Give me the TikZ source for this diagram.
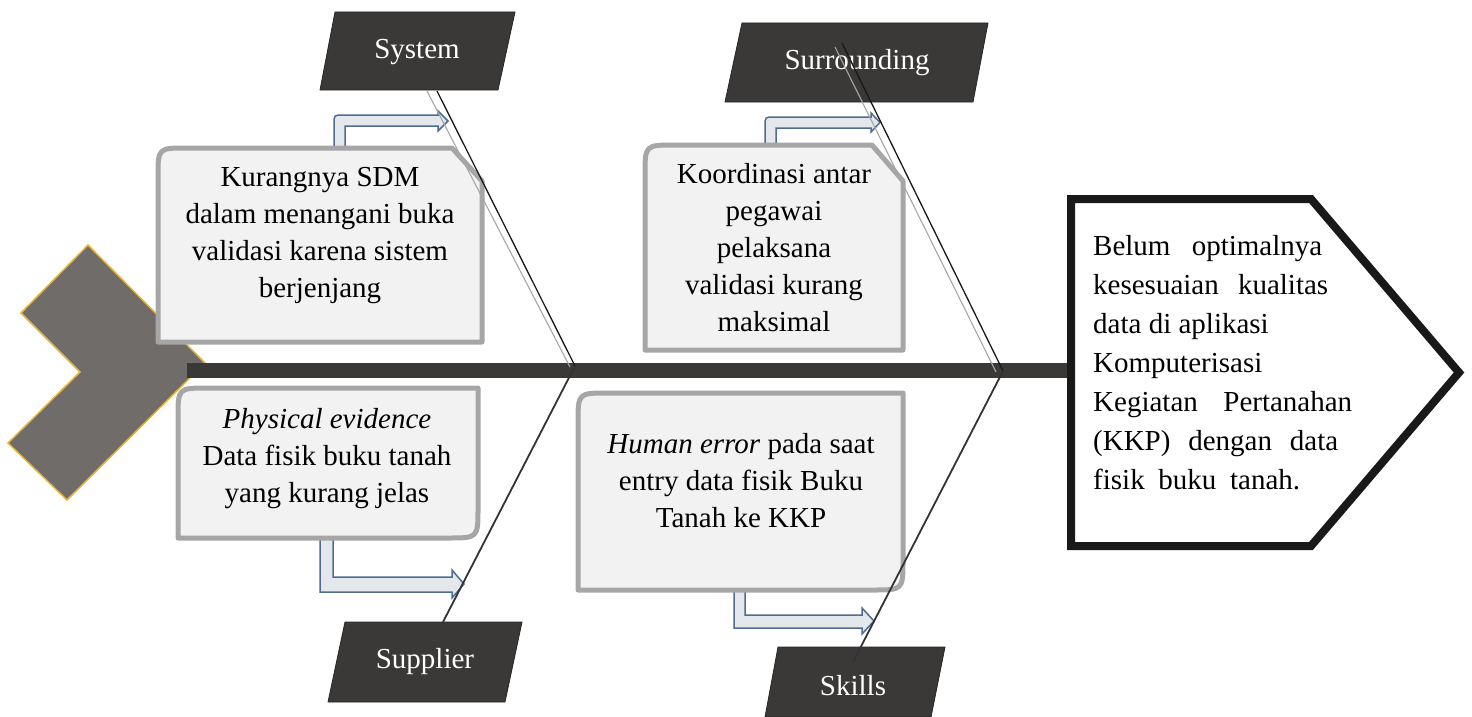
\documentclass[tikz,border=0pt]{standalone}
\usepackage{fontspec}
\setmainfont{Liberation Serif}

\definecolor{chev}{HTML}{706C6A}
\definecolor{chevedge}{HTML}{E6B43A}
\definecolor{spinec}{HTML}{3B3838}
\definecolor{tagfill}{HTML}{3B3838}
\definecolor{boxfill}{HTML}{F2F2F2}
\definecolor{boxedge}{HTML}{A6A6A6}
\definecolor{arrfill}{HTML}{E4E7EC}
\definecolor{arredge}{HTML}{4F6B94}

\tikzset{
  tailshape/.style={fill=chev, draw=chevedge, line width=1.5pt, line join=miter},
  spineline/.style={draw=spinec, line width=15pt},
  causebox/.style={fill=boxfill, draw=boxedge, line width=5pt, line join=round},
  causetext/.style={align=center, inner sep=0pt, font=\fontsize{29}{37}\selectfont},
  tagbox/.style={fill=tagfill, draw=black!85, line width=0.8pt},
  tagtext/.style={text=white, inner sep=0pt, font=\fontsize{29}{35}\selectfont},
  bentarrow/.style={fill=arrfill, draw=arredge, line width=1.5pt, line join=miter},
  bonedark/.style={draw=black!90, line width=1.3pt},
  bonelight/.style={draw=black!35, line width=1.1pt},
  bonelower/.style={draw=black!80, line width=1.8pt},
  headbox/.style={fill=white, draw=black!90, line width=8pt, line join=miter},
  headtext/.style={align=left, inner sep=0pt, font=\fontsize{29}{39}\selectfont},
}

\begin{document}
\begin{tikzpicture}[x=1pt,y=-1pt]
\useasboundingbox (0,0) rectangle (1472,717);

% fish tail
\path[tailshape] (88,245) -- (205,363) -- (67,500) -- (8,443) -- (80,372) -- (21,313) -- cycle;

% spine
\coordinate (tailend) at (187,370);
\coordinate (headin) at (1071,370);
\draw[spineline] (tailend) -- (headin);

% bent arrows from the cause boxes towards the bones
\path[bentarrow] (334,150) -- (334,124) .. controls (334,115) .. (343,115) -- (438,115) -- (438,111)
  -- (448,121) -- (438,131) -- (438,126) -- (345,126) -- (345,150) -- cycle;
\path[bentarrow] (765,147) -- (765,126) .. controls (765,117) .. (774,117) -- (871,117) -- (871,113)
  -- (880,122.5) -- (871,132) -- (871,128) -- (776,128) -- (776,147) -- cycle;
\path[bentarrow] (320,536) -- (320,592) -- (452,592) -- (452,598) -- (464,584) -- (452,570)
  -- (452,577) -- (333,577) -- (333,536) -- cycle;
\path[bentarrow] (734,588) -- (734,628) -- (862,628) -- (862,634) -- (874,621) -- (862,608)
  -- (862,615) -- (745,615) -- (745,588) -- cycle;

% cause boxes
\path[causebox] (158,342) -- (158,177) .. controls (158,148) .. (187,148) -- (452,148) -- (482,181) -- (482,342) -- cycle;
\node[causetext] (sdm) at (320,236) {Kurangnya SDM\\dalam menangani buka\\validasi karena sistem\\berjenjang};

\path[causebox] (645,350) -- (645,175) .. controls (645,145) .. (675,145) -- (872,145) -- (903,181) -- (903,350) -- cycle;
\node[causetext] (koord) at (774,248) {Koordinasi antar\\pegawai\\pelaksana\\validasi kurang\\maksimal};

\path[causebox] (178,538) -- (178,418) .. controls (178,388) .. (208,388) -- (478,388) -- (478,508) .. controls (478,538) .. (448,538) -- cycle;
\node[causetext] (fisik) at (327,459) {\textit{Physical evidence}\\Data fisik buku tanah\\yang kurang jelas};

\path[causebox] (578,590) -- (578,423) .. controls (578,393) .. (608,393) -- (903,393) -- (903,560) .. controls (903,590) .. (873,590) -- cycle;
\node[causetext] (human) at (741,481) {\textit{Human error} pada saat\\entry data fisik Buku\\Tanah ke KKP};

% category tags
\path[tagbox] (335,12) -- (515,12) -- (498,90) -- (320,90) -- cycle;
\node[tagtext] (system) at (417,52) {System};
\path[tagbox] (742,23) -- (988,23) -- (973,102) -- (725,102) -- cycle;
\node[tagtext] (surround) at (857,63) {Surrounding};
\path[tagbox] (345,622) -- (522,622) -- (505,702) -- (328,702) -- cycle;
\node[tagtext] (supplier) at (425,662) {Supplier};
\path[tagbox] (778,647) -- (945,647) -- (931,717) -- (765,717) -- cycle;
\node[tagtext] (skills) at (853,686) {Skills};

% bones
\coordinate (j1) at (575,366);
\coordinate (j1l) at (570,367);
\coordinate (j2) at (1003,371);
\coordinate (j2l) at (996,372);
\coordinate (sysfoot) at (437,91);
\coordinate (sysfootl) at (427,91);
\coordinate (surfoot) at (842,43);
\coordinate (surfootl) at (835,47);
\coordinate (supfoot) at (443,622);
\coordinate (skifoot) at (853,662);

\draw[bonelight] (sysfootl) -- (j1l);
\draw[bonedark] (sysfoot) -- (j1);
\draw[bonelight] (surfootl) -- (j2l);
\draw[bonedark] (surfoot) -- (j2);
\draw[bonelower] (j1) -- (supfoot);
\draw[bonelower] (j2) -- (skifoot);

% fish head with the effect
\path[headbox] (1071,199) -- (1311,199) -- (1459,372.5) -- (1311,546) -- (1071,546) -- cycle;
\node[headtext, anchor=west] (effect) at (1093,363) {%
  \makebox[229pt][s]{Belum optimalnya}\\
  \makebox[235pt][s]{kesesuaian kualitas}\\
  data di aplikasi\\
  Komputerisasi\\
  \makebox[259pt][s]{Kegiatan Pertanahan}\\
  \makebox[245pt][s]{(KKP) dengan data}\\
  \makebox[207pt][s]{fisik buku tanah.}};

\end{tikzpicture}
\end{document}
